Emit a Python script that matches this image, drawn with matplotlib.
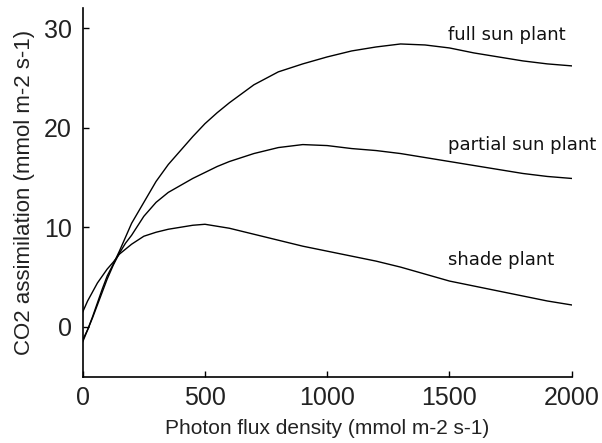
import matplotlib
matplotlib.use("Agg")
import matplotlib.pyplot as plt

# photon flux density (x) and CO2 assimilation for each plant type
ppfd = [0, 20, 40, 60, 80, 100, 125, 150, 175, 200, 250, 300, 350, 400, 450,
        500, 550, 600, 700, 800, 900, 1000, 1100, 1200, 1300, 1400, 1500,
        1600, 1700, 1800, 1900, 2000]
full_sun = [-1.5, -0.3, 1.0, 2.4, 3.8, 5.1, 6.3, 7.6, 9.0, 10.4, 12.5, 14.6,
            16.3, 17.7, 19.1, 20.4, 21.5, 22.5, 24.3, 25.6, 26.4, 27.1, 27.7,
            28.1, 28.4, 28.3, 28.0, 27.5, 27.1, 26.7, 26.4, 26.2]
partial_sun = [-1.3, -0.3, 0.9, 2.2, 3.5, 4.8, 6.2, 7.4, 8.4, 9.2, 11.1, 12.5,
               13.5, 14.2, 14.9, 15.5, 16.1, 16.6, 17.4, 18.0, 18.3, 18.2,
               17.9, 17.7, 17.4, 17.0, 16.6, 16.2, 15.8, 15.4, 15.1, 14.9]
shade = [1.5, 2.6, 3.5, 4.4, 5.1, 5.8, 6.5, 7.3, 7.8, 8.3, 9.1, 9.5, 9.8,
         10.0, 10.2, 10.3, 10.1, 9.9, 9.3, 8.7, 8.1, 7.6, 7.1, 6.6, 6.0, 5.3,
         4.6, 4.1, 3.6, 3.1, 2.6, 2.2]
labels = ["full sun plant", "partial sun plant", "shade plant"]
label_y = [29.3, 18.3, 6.7]

plt.rcParams["font.family"] = ["Liberation Sans", "DejaVu Sans"]

fig = plt.figure(figsize=(6.02, 4.43), dpi=100)
ax = fig.add_axes([0.1374, 0.1497, 0.8123, 0.832])

for y in (full_sun, partial_sun, shade):
    ax.plot(ppfd, y, color="black", lw=1.0)

for lab, ly in zip(labels, label_y):
    ax.text(1493, ly, lab, fontsize=13, va="center", ha="left",
            family="DejaVu Sans", color="#111111")

ax.set_xlim(0, 2000)
ax.set_ylim(-5, 32)
ax.set_xticks([0, 500, 1000, 1500, 2000])
ax.set_yticks([0, 10, 20, 30])
ax.tick_params(direction="in", length=4.5, width=1, labelsize=18,
               labelcolor="#222222")
ax.tick_params(axis="x", pad=7)
ax.tick_params(axis="y", pad=8)
for side in ("top", "right"):
    ax.spines[side].set_visible(False)
for side in ("left", "bottom"):
    ax.spines[side].set_linewidth(1.2)
ax.set_xlabel("Photon flux density (mmol m-2 s-1)", fontsize=15,
              labelpad=6, color="#222222")
ax.set_ylabel("CO2 assimilation (mmol m-2 s-1)", fontsize=16,
              labelpad=6, color="#222222")

fig.savefig("out.png", dpi=100)
